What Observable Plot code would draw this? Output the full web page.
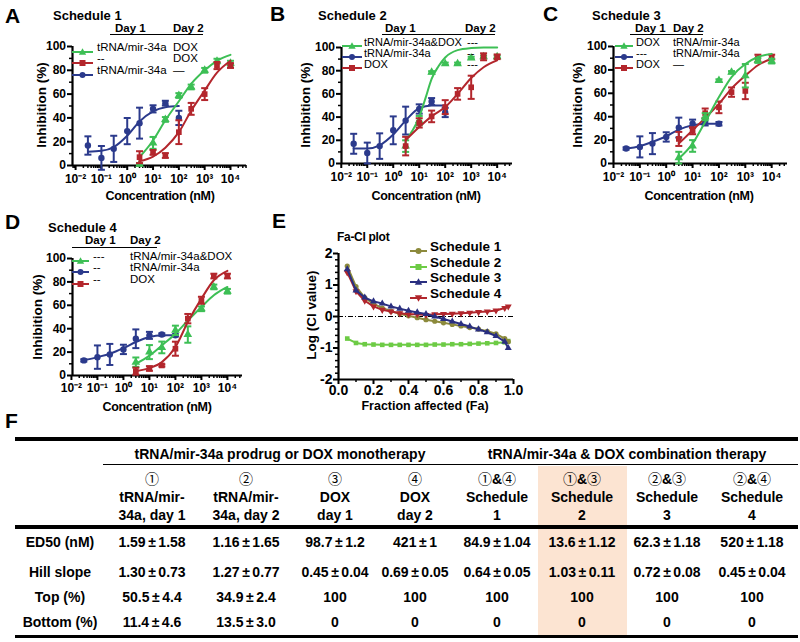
<!DOCTYPE html>
<html><head><meta charset="utf-8">
<script src="https://cdn.jsdelivr.net/npm/d3@7"></script>
<script src="https://cdn.jsdelivr.net/npm/@observablehq/plot@0.6"></script>
<style>
html,body{margin:0;padding:0;background:#fff;}
#root{position:relative;width:800px;height:642px;overflow:hidden;font-family:"Liberation Sans",Arial,sans-serif;color:#000;}
.t{position:absolute;white-space:nowrap;line-height:1;}
.b{font-weight:bold;}
.cj{font-family:"Noto Sans CJK SC",sans-serif;font-weight:normal;}
.pm{padding:0 2.5px;}
</style></head>
<body><div id="root"></div>
<script>
// ---------------- DATA ----------------
const concMir = [0.03, 0.1, 0.3, 1, 3, 10, 30, 100];
const concDox = [3, 10, 30, 100, 300, 1000, 3000, 10000];
const decadeTicks = [0.01, 0.1, 1, 10, 100, 1000, 10000];
const decadeLabels = ["10⁻²", "10⁻¹", "10⁰", "10¹", "10²", "10³", "10⁴"];
const inhibTicks = [0, 20, 40, 60, 80, 100];
const inhibMinor = [10, 30, 50, 70, 90];

// Panel A – Schedule 1
const aMirMean = [16.8, 6.4, 14, 28.9, 35.6, 47.6, 52.4, 40];
const aMirErr  = [7.7, 10, 11, 11, 13, 3, 2, 6];
const aMirFit  = [11.5, 12.3, 15.5, 25, 37, 45.5, 49, 50];
const aComboMean = [1, 19, 38.7, 58.8, 66, 80, 87.7, 86];
const aComboErr  = [1, 5, 2, 2, 2, 2, 2, 2];
const aComboFit  = [7, 21, 38, 54, 68.6, 80, 88, 93];
const aDoxMean = [7, 11, 8.4, 28, 47.6, 60, 84, 84];
const aDoxErr  = [5, 2, 2, 10, 5, 5, 3, 2];
const aDoxFit  = [3.5, 7.5, 15, 28, 46, 63, 78, 88];

// Panel B – Schedule 2
const bMirMean = [17, 9, 15, 28.6, 37, 47, 53.4, 44];
const bMirErr  = [8.6, 9, 11, 12, 12, 4, 3, 4];
const bMirFit  = [13, 13, 15.7, 25, 37, 47.7, 50, 50];
const bComboMean = [15, 37, 78.6, 86, 86, 91, 92, 92];
const bComboErr  = [5, 4, 1, 1, 1, 1, 1, 1];
const bComboFitConc = [3, 5.6, 10, 17.8, 30, 56, 100, 300, 1000, 3000, 10000];
const bComboFit  = [20, 28.6, 40, 57, 73, 84, 91.4, 97.7, 99.5, 100, 100];
const bDoxMean = [15, 35, 40.6, 48.6, 60, 65.7, 92, 92];
const bDoxErr  = [8, 4, 5, 6, 5, 10, 3, 2];
const bDoxFit  = [20, 31.4, 40.6, 48.6, 60, 73.7, 83, 89];

// Panel C – Schedule 3
const cMirMean = [12.8, 14.2, 17, 22.7, 30.7, 34, 35.5, 34];
const cMirErr  = [1, 9, 9, 4, 8.5, 3.5, 3, 1.5];
const cMirFit  = [12.8, 14.8, 18.5, 23.3, 29, 32.7, 34, 34];
const cComboMean = [5, 15, 40, 71, 78, 75, 88, 87.5];
const cComboErr  = [5, 5, 3, 1, 1, 10, 2, 2];
const cComboFit  = [4.3, 17, 35.5, 56.8, 73.9, 85, 91, 93.7];
const cDoxMean = [21, 28, 43, 48, 61, 62, 90, 91];
const cDoxErr  = [6, 3, 4, 5, 4, 7, 3, 2];
const cDoxFit  = [17, 28.4, 39, 51, 64, 75, 84, 89.5];

// Panel D – Schedule 4
const dMirMean = [12.9, 15.7, 18, 22.3, 31.4, 34.3, 35, 34.3];
const dMirErr  = [1, 10, 9, 4, 8, 3, 1, 1];
const dMirFit  = [12.9, 15.7, 18.6, 23.4, 28.6, 32.9, 34.3, 34.3];
const dComboMean = [11.4, 20, 24, 38.6, 35, 57, 75.7, 72];
const dComboErr  = [4, 6, 5, 4, 7, 2, 2, 2];
const dComboFit  = [10, 17, 25.7, 35.7, 47, 58.6, 68.6, 75.7];
const dDoxMean = [3.7, 6, 8.6, 22.9, 48.6, 64.3, 85, 85];
const dDoxErr  = [3, 2, 1, 6, 4, 3, 2, 2];
const dDoxFit  = [3.7, 6.3, 11.4, 24.3, 45.7, 65.7, 81.4, 89.4];

// Panel E – Fa-CI plot
const faValues = [0.05, 0.10, 0.15, 0.20, 0.25, 0.30, 0.35, 0.40, 0.45, 0.50, 0.55, 0.60, 0.65, 0.70, 0.75, 0.80, 0.85, 0.90, 0.95, 0.97];
const ciSchedule1 = [1.60, 0.95, 0.60, 0.40, 0.27, 0.17, 0.09, 0.02, -0.04, -0.10, -0.15, -0.20, -0.25, -0.30, -0.35, -0.40, -0.47, -0.55, -0.70, -0.80];
const ciSchedule2 = [-0.70, -0.84, -0.88, -0.89, -0.90, -0.90, -0.90, -0.90, -0.90, -0.90, -0.89, -0.89, -0.88, -0.88, -0.87, -0.86, -0.85, -0.84, -0.82, -0.78];
const ciSchedule3 = [1.50, 0.83, 0.60, 0.48, 0.41, 0.32, 0.25, 0.18, 0.13, 0.08, 0.00, -0.08, -0.16, -0.24, -0.32, -0.41, -0.50, -0.62, -0.80, -1.00];
const ciSchedule4 = [1.40, 0.80, 0.50, 0.32, 0.21, 0.16, 0.10, 0.07, 0.07, 0.05, 0.07, 0.08, 0.09, 0.10, 0.12, 0.14, 0.16, 0.19, 0.27, 0.32];
const ciTicks = [-2, -1, 0, 1, 2];
const ciTickLabels = ["-2", "-1", "0", "1", "2"];
const faTicks = [0, 0.2, 0.4, 0.6, 0.8, 1.0];
const faTickLabels = ["0.0", "0.2", "0.4", "0.6", "0.8", "1.0"];

// Panel F – table
const groupHeads = ["tRNA/mir-34a prodrug or DOX monotherapy", "tRNA/mir-34a & DOX combination therapy"];
const colMarks = ["①", "②", "③", "④", "①&④", "①&③", "②&③", "②&④"];
const colLine2 = ["tRNA/mir-", "tRNA/mir-", "DOX", "DOX", "Schedule", "Schedule", "Schedule", "Schedule"];
const colLine3 = ["34a, day 1", "34a, day 2", "day 1", "day 2", "1", "2", "3", "4"];
const rowLabels = ["ED50 (nM)", "Hill slope", "Top (%)", "Bottom (%)"];
const ed50Vals = ["1.59±1.58", "1.16±1.65", "98.7±1.2", "421±1", "84.9±1.04", "13.6±1.12", "62.3±1.18", "520±1.18"];
const hillVals = ["1.30±0.73", "1.27±0.77", "0.45±0.04", "0.69±0.05", "0.64±0.05", "1.03±0.11", "0.72±0.08", "0.45±0.04"];
const topVals = ["50.5±4.4", "34.9±2.4", "100", "100", "100", "100", "100", "100"];
const bottomVals = ["11.4±4.6", "13.5±3.0", "0", "0", "0", "0", "0", "0"];

// ---------------- STYLE ----------------
const GREEN = "#3dbf55", RED = "#b3262c", NAVY = "#2b3a8c";
const E_COLORS = {s1: "#8c8a3c", s2: "#6dcb45", s3: "#2a2f80", s4: "#b1262c"};
const FONT = "'Liberation Sans', Arial, sans-serif";

const root = document.getElementById("root");

function text(x, y, str, o = {}) {
  const d = document.createElement("div");
  d.className = "t" + (o.bold ? " b" : "");
  d.style.fontSize = (o.size || 12) + "px";
  d.style.left = x + "px";
  d.style.top = y + "px";
  let tr = o.align === "center" ? "translate(-50%,-50%)" : "translate(0,-50%)";
  if (o.rotate) tr = "translate(-50%,-50%) rotate(-90deg)";
  d.style.transform = tr;
  if (o.ls) d.style.letterSpacing = o.ls + "px";
  if (o.html) d.innerHTML = str; else d.textContent = str;
  root.appendChild(d);
  return d;
}
function box(x, y, w, h, color) {
  const d = document.createElement("div");
  d.style.cssText = `position:absolute;left:${x}px;top:${y}px;width:${w}px;height:${h}px;background:${color};`;
  root.appendChild(d);
}
function swatch(x, yc, w, color, sym) {
  const c = w / 2;
  let m = "";
  if (sym === "circle") m = `<circle cx="${c}" cy="5" r="3" fill="${color}"/>`;
  if (sym === "square") m = `<rect x="${c - 3}" y="2" width="6" height="6" fill="${color}"/>`;
  if (sym === "triangle") m = `<path d="M${c},1.3L${c + 3.7},7.8L${c - 3.7},7.8Z" fill="${color}"/>`;
  if (sym === "triangleDown") m = `<path d="M${c},8.7L${c + 3.7},2.2L${c - 3.7},2.2Z" fill="${color}"/>`;
  const d = document.createElement("div");
  d.style.cssText = `position:absolute;left:${x}px;top:${yc - 5}px;width:${w}px;height:10px;`;
  d.innerHTML = `<svg width="${w}" height="10"><line x1="0" y1="5" x2="${w}" y2="5" stroke="${color}" stroke-width="2"/>${m}</svg>`;
  root.appendChild(d);
}
function place(svg, left, top) {
  const d = document.createElement("div");
  d.style.cssText = `position:absolute;left:${left}px;top:${top}px;`;
  d.appendChild(svg);
  root.appendChild(d);
}

const capSymbol = {draw(ctx, size) { const w = Math.sqrt(size / Math.PI); ctx.moveTo(-w, 0); ctx.lineTo(w, 0); }};

function minorLogTicks(domain) {
  const out = [];
  for (let k = -3; k <= 4; k++) for (let m = 2; m <= 9; m++) {
    const v = m * Math.pow(10, k);
    if (v > domain[0] && v < domain[1]) out.push(v);
  }
  return out;
}

function dosePanel(cfg) {
  const labelMap = new Map(decadeTicks.map((t, i) => [t, decadeLabels[i]]));
  const marks = [
    Plot.axisY({ticks: inhibMinor, tickSize: 3, tickFormat: () => "", strokeWidth: 1.5, label: null}),
    Plot.axisY({ticks: inhibTicks, tickSize: 5, tickPadding: 1.5, tickFormat: d => String(d), strokeWidth: 2, label: null}),
    Plot.axisX({ticks: minorLogTicks(cfg.xDomain), tickSize: 3, tickFormat: () => "", strokeWidth: 1.5, label: null}),
    Plot.axisX({ticks: decadeTicks, tickSize: 5, tickPadding: cfg.xPad, tickFormat: d => labelMap.get(d), strokeWidth: 2, label: null}),
    Plot.ruleY([0], {x1: cfg.xDomain[0], x2: cfg.xDomain[1], strokeWidth: 2.2}),
    Plot.ruleX([cfg.xDomain[0]], {y1: 0, y2: 100, strokeWidth: 2.2})
  ];
  for (const s of cfg.series) {
    const rows = s.conc.map((c, i) => ({c, m: s.mean[i], e: s.err[i]}));
    const fit = s.fitConc.map((c, i) => ({c, v: s.fit[i]}));
    marks.push(Plot.line(fit, {x: "c", y: "v", stroke: s.color, strokeWidth: 2, curve: "monotone-x"}));
    marks.push(Plot.link(rows, {x1: "c", x2: "c", y1: d => d.m - d.e, y2: d => d.m + d.e, stroke: s.color, strokeWidth: 2}));
    marks.push(Plot.dot(rows, {x: "c", y: d => d.m - d.e, symbol: capSymbol, r: 3.5, fill: "none", stroke: s.color, strokeWidth: 2}));
    marks.push(Plot.dot(rows, {x: "c", y: d => d.m + d.e, symbol: capSymbol, r: 3.5, fill: "none", stroke: s.color, strokeWidth: 2}));
    marks.push(Plot.dot(rows, {x: "c", y: "m", symbol: s.symbol, r: 3.2, fill: s.color, stroke: "none"}));
  }
  return Plot.plot({
    width: cfg.width, height: cfg.height,
    marginLeft: cfg.mL, marginRight: cfg.mR, marginTop: cfg.mT, marginBottom: cfg.mB,
    x: {type: "log", domain: cfg.xDomain},
    y: {domain: [0, 100]},
    style: {fontFamily: FONT, fontSize: "12px", fontWeight: "bold", background: "transparent", overflow: "visible", color: "#000"},
    marks
  });
}

function seriesSet(mirMean, mirErr, mirFit, comboMean, comboErr, comboFit, doxMean, doxErr, doxFit, comboFitConc, order) {
  const mir = {conc: concMir, mean: mirMean, err: mirErr, fitConc: concMir, fit: mirFit, color: NAVY, symbol: "circle"};
  const combo = {conc: concDox, mean: comboMean, err: comboErr, fitConc: comboFitConc || concDox, fit: comboFit, color: GREEN, symbol: "triangle"};
  const dox = {conc: concDox, mean: doxMean, err: doxErr, fitConc: concDox, fit: doxFit, color: RED, symbol: "square"};
  return order === "comboTop" ? [mir, dox, combo] : [mir, combo, dox];
}

// ---------- Panel A ----------
place(dosePanel({width: 265, height: 205, mL: 72, mR: 19, mT: 46, mB: 40, xPad: 4,
  xDomain: [0.00759, 41700],
  series: seriesSet(aMirMean, aMirErr, aMirFit, aComboMean, aComboErr, aComboFit, aDoxMean, aDoxErr, aDoxFit)}), 0, 0);
// ---------- Panel B ----------
place(dosePanel({width: 265, height: 205, mL: 76, mR: 18, mT: 47, mB: 42, xPad: 4,
  xDomain: [0.0102, 38900],
  series: seriesSet(bMirMean, bMirErr, bMirFit, bComboMean, bComboErr, bComboFit, bDoxMean, bDoxErr, bDoxFit, bComboFitConc)}), 265, 0);
// ---------- Panel C ----------
place(dosePanel({width: 270, height: 205, mL: 83, mR: 13, mT: 46, mB: 42, xPad: 4,
  xDomain: [0.01, 39800],
  series: seriesSet(cMirMean, cMirErr, cMirFit, cComboMean, cComboErr, cComboFit, cDoxMean, cDoxErr, cDoxFit, null, "comboTop")}), 530, 0);
// ---------- Panel D ----------
place(dosePanel({width: 265, height: 215, mL: 72, mR: 23, mT: 53, mB: 45, xPad: 3,
  xDomain: [0.011, 38000],
  series: seriesSet(dMirMean, dMirErr, dMirFit, dComboMean, dComboErr, dComboFit, dDoxMean, dDoxErr, dDoxFit)}), 0, 205);

// ---------- Panel E ----------
{
  const rows = key => faValues.map((f, i) => ({f, v: key[i]}));
  const s = [
    {d: rows(ciSchedule2), c: E_COLORS.s2, sym: "square", rot: 0},
    {d: rows(ciSchedule1), c: E_COLORS.s1, sym: "circle", rot: 0},
    {d: rows(ciSchedule4), c: E_COLORS.s4, sym: "triangle", rot: 180},
    {d: rows(ciSchedule3), c: E_COLORS.s3, sym: "triangle", rot: 0}
  ];
  const yMinor = d3.range(-20, 21, 2).map(v => v / 10).filter(v => !ciTicks.includes(v));
  const xMinor = [0.1, 0.3, 0.5, 0.7, 0.9];
  const fmtX = new Map(faTicks.map((t, i) => [t, faTickLabels[i]]));
  const fmtY = new Map(ciTicks.map((t, i) => [t, ciTickLabels[i]]));
  const marks = [
    Plot.axisY({ticks: yMinor, tickSize: 3, tickFormat: () => "", strokeWidth: 1.5, label: null}),
    Plot.axisY({ticks: ciTicks, tickSize: 5, tickPadding: 1, strokeWidth: 2, tickFormat: d => fmtY.get(d), label: null}),
    Plot.axisX({ticks: xMinor, tickSize: 3, tickFormat: () => "", strokeWidth: 1.5, label: null}),
    Plot.axisX({ticks: faTicks, tickSize: 5, tickPadding: 1, strokeWidth: 2, tickFormat: d => fmtX.get(d), label: null}),
    Plot.ruleY([0], {x1: 0, x2: 1, stroke: "#000", strokeWidth: 1, strokeDasharray: "5,2,1,2"}),
    Plot.ruleY([-2], {x1: 0, x2: 1, strokeWidth: 2.2}),
    Plot.ruleX([0], {y1: -2, y2: 2, strokeWidth: 2.2})
  ];
  for (const t of s) {
    marks.push(Plot.line(t.d, {x: "f", y: "v", stroke: t.c, strokeWidth: 2}));
    marks.push(Plot.dot(t.d, {x: "f", y: "v", fill: t.c, stroke: "none", r: 2.6, symbol: t.sym, rotate: t.rot}));
  }
  place(Plot.plot({
    width: 270, height: 215, marginLeft: 73, marginRight: 22, marginTop: 48, marginBottom: 41,
    x: {domain: [0, 1]}, y: {domain: [-2, 2]},
    style: {fontFamily: FONT, fontSize: "14px", fontWeight: "bold", background: "transparent", overflow: "visible", color: "#000"},
    marks
  }), 265, 205);
}

// ---------- Texts for A–E ----------
const letters = [["A", 5, 14.5], ["B", 270, 12.5], ["C", 543, 12.5], ["D", 5, 220.5], ["E", 272, 219.5], ["F", 5, 420]];
for (const [l, x, y] of letters) text(x, y, l, {bold: true, size: 21});

text(53, 15, "Schedule 1", {bold: true, size: 13});
text(318, 15, "Schedule 2", {bold: true, size: 13});
text(592, 15, "Schedule 3", {bold: true, size: 13});
text(48, 226.5, "Schedule 4", {bold: true, size: 13});
text(337, 237, "Fa-CI plot", {bold: true, size: 12, ls: -0.3});

// axis titles
for (const [x, y] of [[42, 105], [306, 105], [578, 105], [38, 317]]) text(x, y, "Inhibition (%)", {bold: true, size: 13.5, rotate: true});
for (const [x, y] of [[160, 196], [426, 196], [699, 196], [157, 407]]) text(x, y, "Concentration (nM)", {bold: true, size: 12.5, align: "center", ls: -0.3});
text(312, 315, "Log (CI value)", {bold: true, size: 13.5, rotate: true});
text(425, 406, "Fraction affected (Fa)", {bold: true, size: 12.5, align: "center"});

// legends A–D
function doseLegend(L) {
  const fs = L.fs || 11.5;
  text(L.d1x, L.dy, "Day 1", {bold: true, size: 11.5});
  text(L.d2x, L.dy, "Day 2", {bold: true, size: 11.5});
  box(L.ux1, L.uy, L.ux2 - L.ux1, 1.2, "#000");
  L.rows.forEach((r, i) => {
    swatch(L.sx, L.ry[i], L.sw, r.color, r.sym);
    text(L.c1, L.ry[i], r.a, {size: fs});
    text(L.c2, L.ry[i], r.b, {size: fs});
  });
}
doseLegend({d1x: 115, d2x: 173, dy: 28.5, ux1: 110, ux2: 203, uy: 34, sx: 72, sw: 21, c1: 97, c2: 173, ry: [47.5, 59, 70.5],
  rows: [{color: GREEN, sym: "triangle", a: "tRNA/mir-34a", b: "DOX"}, {color: RED, sym: "square", a: "--", b: "DOX"}, {color: NAVY, sym: "circle", a: "tRNA/mir-34a", b: "—"}]});
doseLegend({d1x: 385, d2x: 465, dy: 28.5, ux1: 382, ux2: 495, uy: 34, sx: 342, sw: 20, c1: 364, c2: 467, ry: [42, 53, 64], fs: 11,
  rows: [{color: GREEN, sym: "triangle", a: "tRNA/mir-34a&DOX", b: "---"}, {color: NAVY, sym: "circle", a: "tRNA/mir-34a", b: "--"}, {color: RED, sym: "square", a: "DOX", b: "---"}]});
doseLegend({d1x: 635, d2x: 673, dy: 28.5, ux1: 630, ux2: 703, uy: 34, sx: 615, sw: 18, c1: 636, c2: 673, ry: [41.5, 52.5, 63.5], fs: 11,
  rows: [{color: GREEN, sym: "triangle", a: "DOX", b: "tRNA/mir-34a"}, {color: NAVY, sym: "circle", a: "---", b: " tRNA/mir-34a"}, {color: RED, sym: "square", a: "DOX", b: "—"}]});
doseLegend({d1x: 85, d2x: 130, dy: 241, ux1: 72, ux2: 157, uy: 247, sx: 72, sw: 17, c1: 93, c2: 130, ry: [256.5, 268, 279.5],
  rows: [{color: GREEN, sym: "triangle", a: "---", b: "tRNA/mir-34a&DOX"}, {color: NAVY, sym: "circle", a: "--", b: "tRNA/mir-34a"}, {color: RED, sym: "square", a: "--", b: "DOX"}]});

// legend E
[["Schedule 1", E_COLORS.s1, "circle"], ["Schedule 2", E_COLORS.s2, "square"], ["Schedule 3", E_COLORS.s3, "triangle"], ["Schedule 4", E_COLORS.s4, "triangleDown"]]
  .forEach(([lab, c, sym], i) => {
    const y = [247, 262.5, 278, 293.5][i];
    swatch(410, y, 17, c, sym);
    text(430, y, lab, {bold: true, size: 13.5});
  });

// ---------- Panel F table ----------
const colX = [152, 246, 335, 415, 497, 582, 667, 752];
box(538, 466, 89, 169, "#fce4d2");
box(15, 437, 783, 3.5, "#000");
box(103, 463.5, 695, 1.6, "#000");
box(15, 525, 783, 3.5, "#000");
box(15, 634.5, 783, 3.5, "#000");
text(280, 454, groupHeads[0], {bold: true, size: 14, align: "center"});
text(627, 454, groupHeads[1], {bold: true, size: 14, align: "center"});
const fmtMark = s => s.replace(/([①②③④])/g, '<span class="cj">$1</span>');
const fmtPM = s => s.replace("±", '<span class="pm">±</span>');
colX.forEach((x, i) => {
  text(x, 478, fmtMark(colMarks[i]), {bold: true, size: 14, align: "center", html: true});
  text(x, 497, colLine2[i], {bold: true, size: 14, align: "center"});
  text(x, 515, colLine3[i], {bold: true, size: 14, align: "center"});
});
const rowY = [542, 572, 597, 622];
const tableRows = [ed50Vals, hillVals, topVals, bottomVals];
rowLabels.forEach((lab, r) => {
  text(60, rowY[r], lab, {bold: true, size: 14, align: "center"});
  tableRows[r].forEach((v, i) => text(colX[i], rowY[r], fmtPM(v), {bold: true, size: 14, align: "center", html: true}));
});
</script>
</body></html>
